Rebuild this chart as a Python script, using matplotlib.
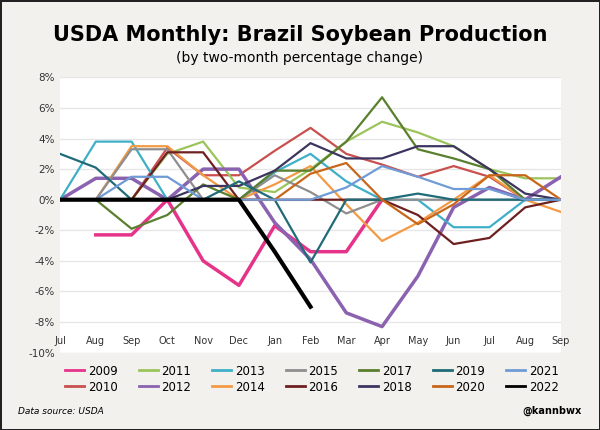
import matplotlib
matplotlib.use("Agg")
import matplotlib.pyplot as plt
import numpy as np

months = ["Jul","Aug","Sep","Oct","Nov","Dec","Jan","Feb","Mar","Apr","May","Jun","Jul","Aug","Sep"]
N = None
s2009 = [N,-2.3,-2.3,0,-4.0,-5.6,-1.7,-3.4,-3.4,0,N,N,N,N,N]
s2010 = [0,0,0,3.4,1.6,1.6,3.2,4.7,3.0,2.3,1.5,2.2,1.5,0,0]
s2011 = [0,0,0,3.0,3.8,0.8,0.5,2.0,3.8,5.1,4.4,3.5,2.0,1.4,1.4]
s2012 = [0,1.4,1.4,0,2.0,2.0,-1.5,-3.9,-7.4,-8.3,-5.0,-0.5,0.8,0,1.5]
s2013 = [0,3.8,3.8,0,0,0,1.8,3.0,1.2,0,0,-1.8,-1.8,0,0]
s2014 = [0,0,3.5,3.5,1.6,0,1.0,2.2,-0.3,-2.7,-1.5,0,1.6,0,-0.8]
s2015 = [0,0,3.3,3.3,0,0,1.6,0.5,-0.9,0,0,0,0,0,0]
s2016 = [0,0,0,3.1,3.1,0,0,0,0,0,-1.0,-2.9,-2.5,-0.5,0]
s2017 = [0,0,-1.9,-1.0,1.0,0,1.9,1.9,3.8,6.7,3.3,2.7,2.0,0,0]
s2018 = [0,0,0,0,0.9,0.9,1.9,3.7,2.7,2.7,3.5,3.5,2.0,0.4,0]
s2019 = [3.0,2.1,0,0,0,1.2,0,-4.1,0,0,0.4,0,0,0,0]
s2020 = [0,0,0,0,0,0,0,1.7,2.4,0,-1.6,-0.3,1.6,1.6,0]
s2021 = [0,0,1.5,1.5,0,0,0,0,0.8,2.2,1.5,0.7,0.7,0,0]
s2022 = [0,0,0,0,0,0,-3.4,-7.0,N,N,N,N,N,N,N]

series = [("2009",s2009,"#e6338a",2.5),("2010",s2010,"#c8504e",1.6),("2011",s2011,"#9bc45a",1.6),
          ("2012",s2012,"#8a62b0",2.5),("2013",s2013,"#3fafc8",1.6),("2014",s2014,"#f39a44",1.6),
          ("2015",s2015,"#8e8e8e",1.6),("2016",s2016,"#6e2020",1.6),("2017",s2017,"#5a7f2e",1.6),
          ("2018",s2018,"#3d3560",1.6),("2019",s2019,"#1f6b78",1.6),("2020",s2020,"#c8661a",1.6),
          ("2021",s2021,"#6f9bd6",1.6),("2022",s2022,"#000000",3.0)]

fig = plt.figure(figsize=(6,4.3), dpi=100, facecolor="#f2f1ee", edgecolor="#222222", linewidth=2)
ax = fig.add_axes([0.1, 0.18, 0.835, 0.64])
ax.set_facecolor("white")
x = np.arange(len(months))
for name, vals, c, lw in series:
    y = np.array([np.nan if v is None else v for v in vals], dtype=float)
    ax.plot(x, y, color=c, lw=lw, label=name)
ax.set_xlim(0, len(months)-1)
ax.set_ylim(-10, 8)
ax.set_yticks(range(-10, 9, 2))
ax.set_yticklabels([f"{v}%" for v in range(-10, 9, 2)], fontsize=7.5, color="#333")
ax.set_xticks(x)
ax.set_xticklabels(months, fontsize=7, color="#333")
ax.tick_params(length=0)
ax.xaxis.set_tick_params(pad=-12)
ax.grid(axis="y", color="#e6e6e6", lw=1)
ax.set_axisbelow(True)
for s in ax.spines.values():
    s.set_visible(False)
ax.axhline(0, color="#d0d0d0", lw=0.8, zorder=0)
fig.text(0.5, 0.905, "USDA Monthly: Brazil Soybean Production", ha="center", fontsize=15, fontweight="bold")
fig.text(0.5, 0.855, "(by two-month percentage change)", ha="center", fontsize=10)
leg = fig.legend(loc="lower center", bbox_to_anchor=(0.52, 0.06), ncol=7, frameon=False, fontsize=8.5,
           handlelength=1.6, handletextpad=0.3, columnspacing=1.8, labelspacing=0.25)
for h in leg.get_lines():
    h.set_linewidth(2)
fig.text(0.03, 0.038, "Data source: USDA", fontsize=6.5, style="italic")
fig.text(0.97, 0.038, "@kannbwx", fontsize=7, fontweight="bold", ha="right")
fig.savefig("out.png", dpi=100, facecolor=fig.get_facecolor(), edgecolor=fig.get_edgecolor())
